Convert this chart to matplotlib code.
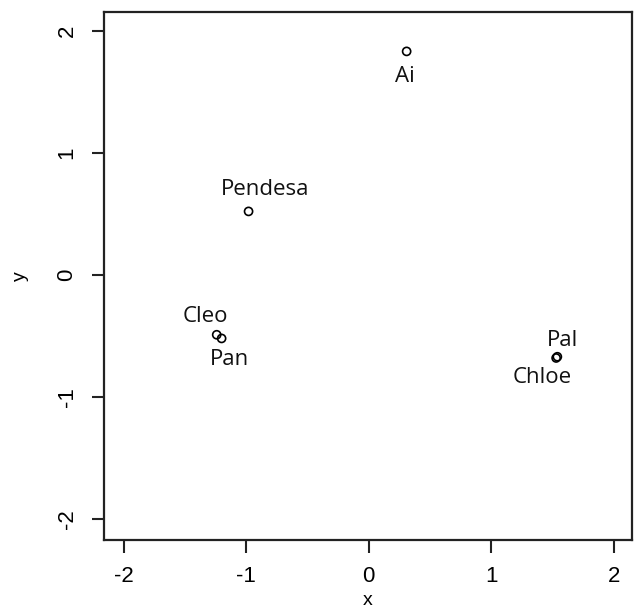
import matplotlib.pyplot as plt

# coordinates of each name
names = ["Ai", "Pendesa", "Cleo", "Pan", "Pal", "Chloe"]
x = [0.31, -0.98, -1.24, -1.20, 1.54, 1.53]
y = [1.83, 0.52, -0.49, -0.52, -0.67, -0.68]
# label offsets in points (dx, dy)
offsets = [(-1, -18), (12, 16), (-8, 13), (6, -15), (4, 12), (-10, -14)]

xticks = [-2, -1, 0, 1, 2]
yticks = [-2, -1, 0, 1, 2]

plt.rcParams['font.family'] = ['Liberation Sans', 'DejaVu Sans']

fig = plt.figure(figsize=(6.34, 6.15), dpi=100)
ax = fig.add_axes([0.164, 0.122, 0.833, 0.858])

ax.scatter(x, y, s=34, facecolors='none', edgecolors='black', linewidths=1.2, zorder=3)
for name, xi, yi, (dx, dy) in zip(names, x, y, offsets):
    ax.annotate(name, (xi, yi), xytext=(dx, dy), textcoords='offset points',
                ha='center', va='center', fontsize=16, family='Open Sans', color='#111111')

ax.set_xlim(-2.16, 2.15)
ax.set_ylim(-2.17, 2.15)
ax.set_xticks(xticks)
ax.set_yticks(yticks)
ax.set_xticklabels([str(t) for t in xticks], fontsize=16)
ax.set_yticklabels([str(t) for t in yticks], fontsize=16, rotation=90, va='center')
ax.tick_params(length=9, width=1.5, pad=10, color='#222222')
for s in ax.spines.values():
    s.set_linewidth(1.6)
    s.set_color('#222222')
ax.set_xlabel("x", fontsize=14, labelpad=3)
ax.set_ylabel("y", fontsize=14, labelpad=20)

fig.savefig("out.png", dpi=100)
